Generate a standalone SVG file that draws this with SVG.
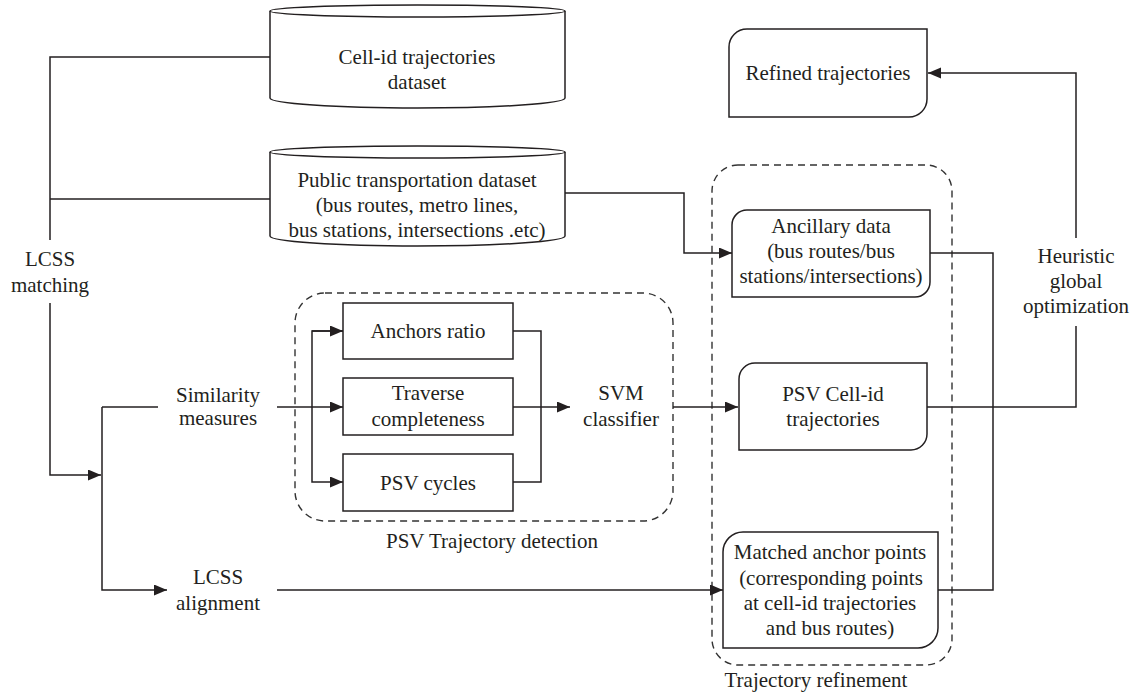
<svg xmlns="http://www.w3.org/2000/svg" width="1137" height="695" viewBox="0 0 1137 695">
<style>
.ln{fill:none;stroke:#231f20;stroke-width:1.5}
.bx{fill:#fff;stroke:#231f20;stroke-width:1.5}
.dash{fill:none;stroke:#333;stroke-width:1.4;stroke-dasharray:7 5}
text{font-family:"Liberation Serif","Times New Roman",serif;font-size:21px;fill:#231f20;text-anchor:middle}
</style>
<defs>
<marker id="ah" markerUnits="userSpaceOnUse" markerWidth="14" markerHeight="12" refX="13" refY="5.5" orient="auto">
<path d="M0,0 L13,5.5 L0,11 z" fill="#231f20"/>
</marker>
</defs>
<rect width="1137" height="695" fill="#fff"/>

<g id="groups">
<rect class="dash" x="295" y="293" width="378" height="228" rx="30" ry="30"/>
<text x="492" y="548">PSV Trajectory detection</text>
<rect class="dash" x="712" y="165" width="240" height="500" rx="26" ry="26"/>
<text x="816" y="687">Trajectory refinement</text>
</g>

<g id="connectors">
<!-- LCSS matching -->
<path class="ln" d="M270,57 H50 V240"/>
<path class="ln" d="M50,199 H270"/>
<path class="ln" d="M50,303 V475 H101" marker-end="url(#ah)"/>
<path class="ln" d="M102,407 V590 H167" marker-end="url(#ah)"/>
<path class="ln" d="M102,407 H158"/>
<!-- similarity to boxes -->
<path class="ln" d="M277,407 H343" marker-end="url(#ah)"/>
<path class="ln" d="M343,331 H312 V482 H343" marker-end="url(#ah)"/>
<path class="ln" d="M312,331 H343" marker-end="url(#ah)"/>
<path class="ln" d="M513,331 H541 V482 H513"/>
<path class="ln" d="M513,407 H570" marker-end="url(#ah)"/>
<path class="ln" d="M673,407 H738" marker-end="url(#ah)"/>
<!-- public transport to ancillary -->
<path class="ln" d="M565,193 H684 V253 H732" marker-end="url(#ah)"/>
<!-- ancillary to matched -->
<path class="ln" d="M930,253 H993 V590 H938"/>
<!-- LCSS alignment to matched -->
<path class="ln" d="M277,590 H723" marker-end="url(#ah)"/>
<!-- heuristic -->
<path class="ln" d="M927,407 H1076 V326"/>
<path class="ln" d="M1076,238 V73 H928" marker-end="url(#ah)"/>
</g>

<g id="cellid-dataset">
<path class="bx" d="M270,11 V98 A147.5,10 0 0 0 565,98 V11"/>
<ellipse class="bx" cx="417.5" cy="11" rx="147.5" ry="6"/>
<text x="417" y="64">Cell-id trajectories</text>
<text x="417" y="89">dataset</text>
</g>

<g id="public-dataset">
<path class="bx" d="M270,152 V236 A147.5,10 0 0 0 565,236 V152"/>
<ellipse class="bx" cx="417.5" cy="152" rx="147.5" ry="6"/>
<text x="417" y="187">Public transportation dataset</text>
<text x="417" y="212">(bus routes, metro lines,</text>
<text x="417" y="237">bus stations, intersections .etc)</text>
</g>

<g id="refined">
<path class="bx" d="M747,29 H927 V99 A18,18 0 0 1 909,117 H729 V47 A18,18 0 0 1 747,29 Z"/>
<text x="828" y="80">Refined trajectories</text>
</g>

<g id="ancillary">
<path class="bx" d="M747,210 H930 V282 A15,15 0 0 1 915,297 H732 V225 A15,15 0 0 1 747,210 Z"/>
<text x="831" y="233">Ancillary data</text>
<text x="831" y="258">(bus routes/bus</text>
<text x="831" y="283">stations/intersections)</text>
</g>

<g id="psv-cellid">
<path class="bx" d="M755,363 H927 V434 A16,16 0 0 1 911,450 H739 V379 A16,16 0 0 1 755,363 Z"/>
<text x="833" y="401">PSV Cell-id</text>
<text x="833" y="426">trajectories</text>
</g>

<g id="matched">
<path class="bx" d="M743,532 H938 V628 A20,20 0 0 1 918,648 H723 V552 A20,20 0 0 1 743,532 Z"/>
<text x="830" y="559">Matched anchor points</text>
<text x="831" y="585">(corresponding points</text>
<text x="830" y="610">at cell-id trajectories</text>
<text x="830" y="635">and bus routes)</text>
</g>

<g id="anchors-ratio">
<rect class="bx" x="343" y="303" width="170" height="56"/>
<text x="428" y="338">Anchors ratio</text>
</g>
<g id="traverse">
<rect class="bx" x="343" y="378" width="170" height="57"/>
<text x="428" y="400">Traverse</text>
<text x="428" y="426">completeness</text>
</g>
<g id="psv-cycles">
<rect class="bx" x="343" y="454" width="170" height="57"/>
<text x="428" y="490">PSV cycles</text>
</g>

<g id="svm">
<text x="621" y="400">SVM</text>
<text x="621" y="426">classifier</text>
</g>
<g id="lcss-matching">
<text x="50" y="266">LCSS</text>
<text x="50" y="292">matching</text>
</g>
<g id="similarity">
<text x="218" y="402">Similarity</text>
<text x="218" y="425">measures</text>
</g>
<g id="lcss-alignment">
<text x="218" y="584">LCSS</text>
<text x="218" y="610">alignment</text>
</g>
<g id="heuristic">
<text x="1076" y="263">Heuristic</text>
<text x="1076" y="288">global</text>
<text x="1076" y="313">optimization</text>
</g>
</svg>
